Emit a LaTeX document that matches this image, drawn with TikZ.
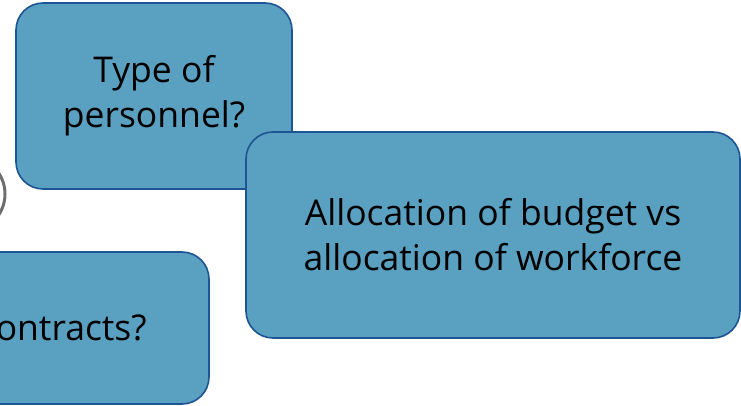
\documentclass[tikz,border=0pt]{standalone}
\usepackage{fontspec}
\setmainfont{Open Sans}
\tikzset{
  qbox/.style={draw=qline, line width=1.6pt, fill=qfill, rounded corners=27pt,
    align=center, font=\fontsize{35.5}{45}\selectfont, text=black, inner sep=0pt},
}
\definecolor{qfill}{RGB}{90,160,192}
\definecolor{qline}{RGB}{28,84,148}
\definecolor{ringgray}{RGB}{110,110,110}
\begin{document}
\begin{tikzpicture}[x=1pt,y=1pt]
\useasboundingbox (0,0) rectangle (741,405);
% ring peeking in at the left border
\node[circle, draw=ringgray, line width=3pt, minimum size=76pt] (ring) at (-33,211) {};
\node[qbox, minimum width=276pt, minimum height=186pt] (type) at (154,309) {Type of\\personnel?};
\node[qbox, minimum width=494pt, minimum height=206pt] (alloc) at (493,170) {Allocation of budget vs\\allocation of workforce};
\node[qbox, minimum width=298pt, minimum height=152pt] (contr) at (60,77) {Contracts?};
\end{tikzpicture}
\end{document}
